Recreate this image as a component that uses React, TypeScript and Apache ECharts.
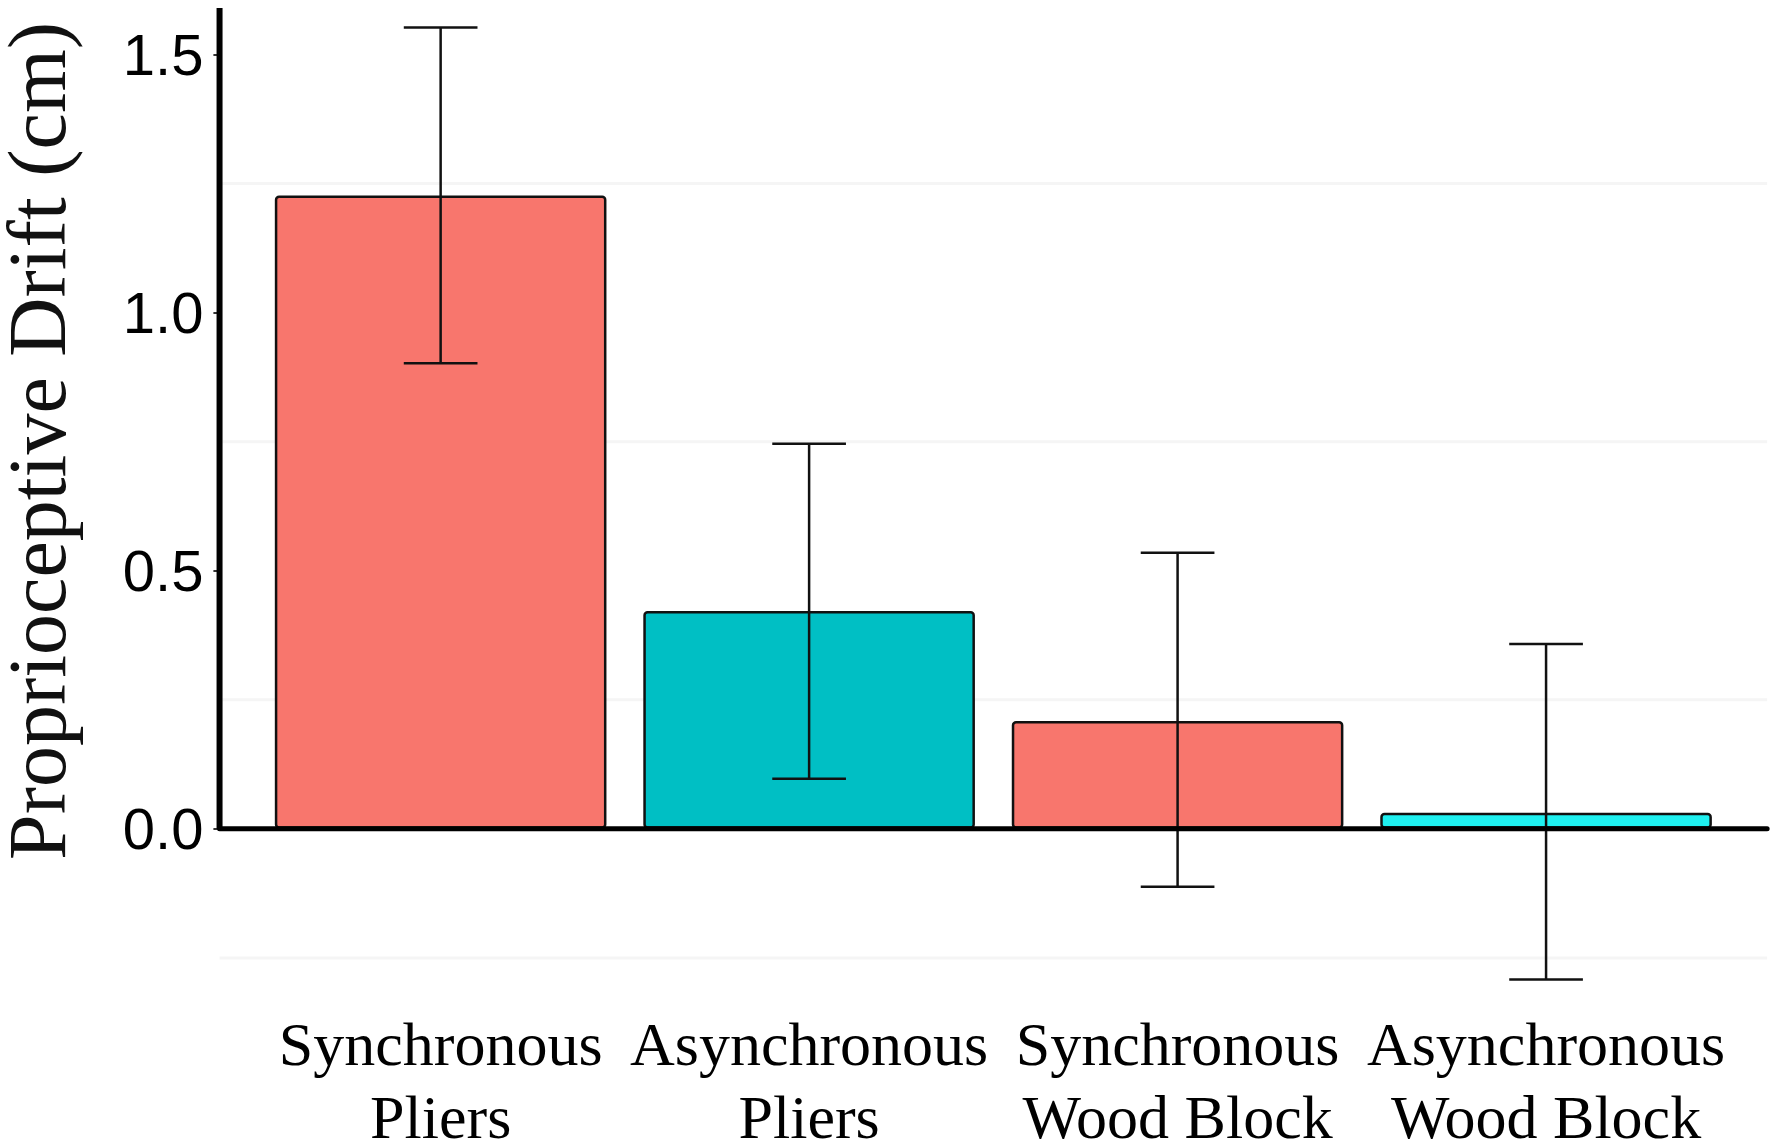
import React, { useEffect, useRef } from "react";
import * as echarts from "echarts";

const categories = [
  "Synchronous\nPliers",
  "Asynchronous\nPliers",
  "Synchronous\nWood Block",
  "Asynchronous\nWood Block",
];
const means = [1.227, 0.422, 0.209, 0.031];
const lowerCI = [0.902, 0.097, -0.112, -0.292];
const upperCI = [1.552, 0.746, 0.535, 0.358];
const barColors = ["#F8766D", "#00BFC4", "#F8766D", "#1FF0F0"];
const yTicks = [0, 0.5, 1.0, 1.5];
const minorGrid = [-0.25, 0.25, 0.75, 1.25];
const yTitle = "Proprioceptive Drift (cm)";

export default function App() {
  const ref = useRef<HTMLDivElement>(null);

  useEffect(() => {
    if (!ref.current) return;
    const chart = echarts.init(ref.current, undefined, { renderer: "svg" });

    const option: any = {
      animation: false,
      backgroundColor: "#ffffff",
      grid: {
        left: 256.4,
        right: 50.7,
        top: 8,
        bottom: 120,
        containLabel: false,
        outerBoundsMode: "none",
      },
      graphic: [
        {
          type: "text",
          x: 37,
          y: 441,
          rotation: Math.PI / 2,
          style: {
            text: yTitle,
            font: '82px "Liberation Serif", "Times New Roman", serif',
            lineHeight: 68,
            fill: "#111",
            textAlign: "center",
            textVerticalAlign: "middle",
          },
        },
      ],
      xAxis: {
        type: "category",
        data: categories,
        boundaryGap: true,
        axisLine: { show: false, onZero: false },
        axisTick: { show: false },
        splitLine: { show: false },
        axisLabel: {
          interval: 0,
          margin: -18,
          fontFamily: '"Liberation Serif", "Times New Roman", serif',
          fontSize: 62,
          lineHeight: 73,
          color: "#000",
        },
      },
      yAxis: {
        type: "value",
        min: -0.38,
        max: 1.59,
        offset: 37,
        axisLine: { show: false },
        splitLine: { show: false },
        axisTick: {
          show: true,
          customValues: yTicks,
          length: 6,
          lineStyle: { color: "#333", width: 2 },
        },
        axisLabel: {
          customValues: yTicks,
          margin: 16,
          fontFamily: '"Liberation Sans", Arial, sans-serif',
          fontSize: 58,
          color: "#000",
          formatter: (v: number) => v.toFixed(1),
        },
      },
      series: [
        {
          type: "custom",
          name: "grid",
          z: 0,
          silent: true,
          data: [[0, 0]],
          encode: { x: 0, y: 1 },
          renderItem: (params: any, api: any) => {
            const cs = params.coordSys;
            const band = api.size([1, 0])[0];
            const x0 = cs.x - 0.1 * band;
            const x1 = cs.x + cs.width + 0.1 * band;
            return {
              type: "group",
              children: minorGrid.map((v) => {
                const y = api.coord([0, v])[1];
                return {
                  type: "line",
                  shape: { x1: x0, y1: y, x2: x1, y2: y },
                  style: { stroke: "#f5f5f5", lineWidth: 3 },
                };
              }),
            };
          },
        },
        {
          type: "bar",
          name: "Drift",
          z: 2,
          barWidth: "90%",
          data: means.map((v, i) => ({
            value: v,
            itemStyle: {
              color: barColors[i],
              borderColor: "#111",
              borderWidth: 2.5,
              borderRadius: 3,
            },
          })),
        },
        {
          type: "custom",
          name: "errors",
          z: 4,
          silent: true,
          data: means.map((_, i) => [i, lowerCI[i], upperCI[i]]),
          encode: { x: 0, y: [1, 2] },
          renderItem: (params: any, api: any) => {
            const idx = api.value(0);
            const lo = api.coord([idx, api.value(1)]);
            const hi = api.coord([idx, api.value(2)]);
            const w = api.size([1, 0])[0] * 0.1;
            const st = { stroke: "#111", lineWidth: 2.5 };
            return {
              type: "group",
              children: [
                { type: "line", shape: { x1: lo[0], y1: lo[1], x2: hi[0], y2: hi[1] }, style: st },
                { type: "line", shape: { x1: hi[0] - w, y1: hi[1], x2: hi[0] + w, y2: hi[1] }, style: st },
                { type: "line", shape: { x1: lo[0] - w, y1: lo[1], x2: lo[0] + w, y2: lo[1] }, style: st },
              ],
            };
          },
        },
        {
          type: "custom",
          name: "axes",
          z: 5,
          silent: true,
          data: [[0, 0]],
          encode: { x: 0, y: 1 },
          renderItem: (params: any, api: any) => {
            const cs = params.coordSys;
            const band = api.size([1, 0])[0];
            const x0 = cs.x - 0.1 * band;
            const x1 = cs.x + cs.width + 0.1 * band;
            const y0 = api.coord([0, 0])[1];
            return {
              type: "group",
              children: [
                {
                  type: "line",
                  shape: { x1: x0, y1: y0, x2: x1, y2: y0 },
                  style: { stroke: "#000", lineWidth: 5, lineCap: "round" },
                },
                {
                  type: "line",
                  shape: { x1: x0, y1: y0, x2: x0, y2: cs.y },
                  style: { stroke: "#000", lineWidth: 6 },
                },
              ],
            };
          },
        },
      ],
    };

    chart.setOption(option);
    return () => chart.dispose();
  }, []);

  return (
    <div
      ref={ref}
      style={{ position: "absolute", left: 0, top: 0, width: 1781, height: 1145 }}
    />
  );
}
